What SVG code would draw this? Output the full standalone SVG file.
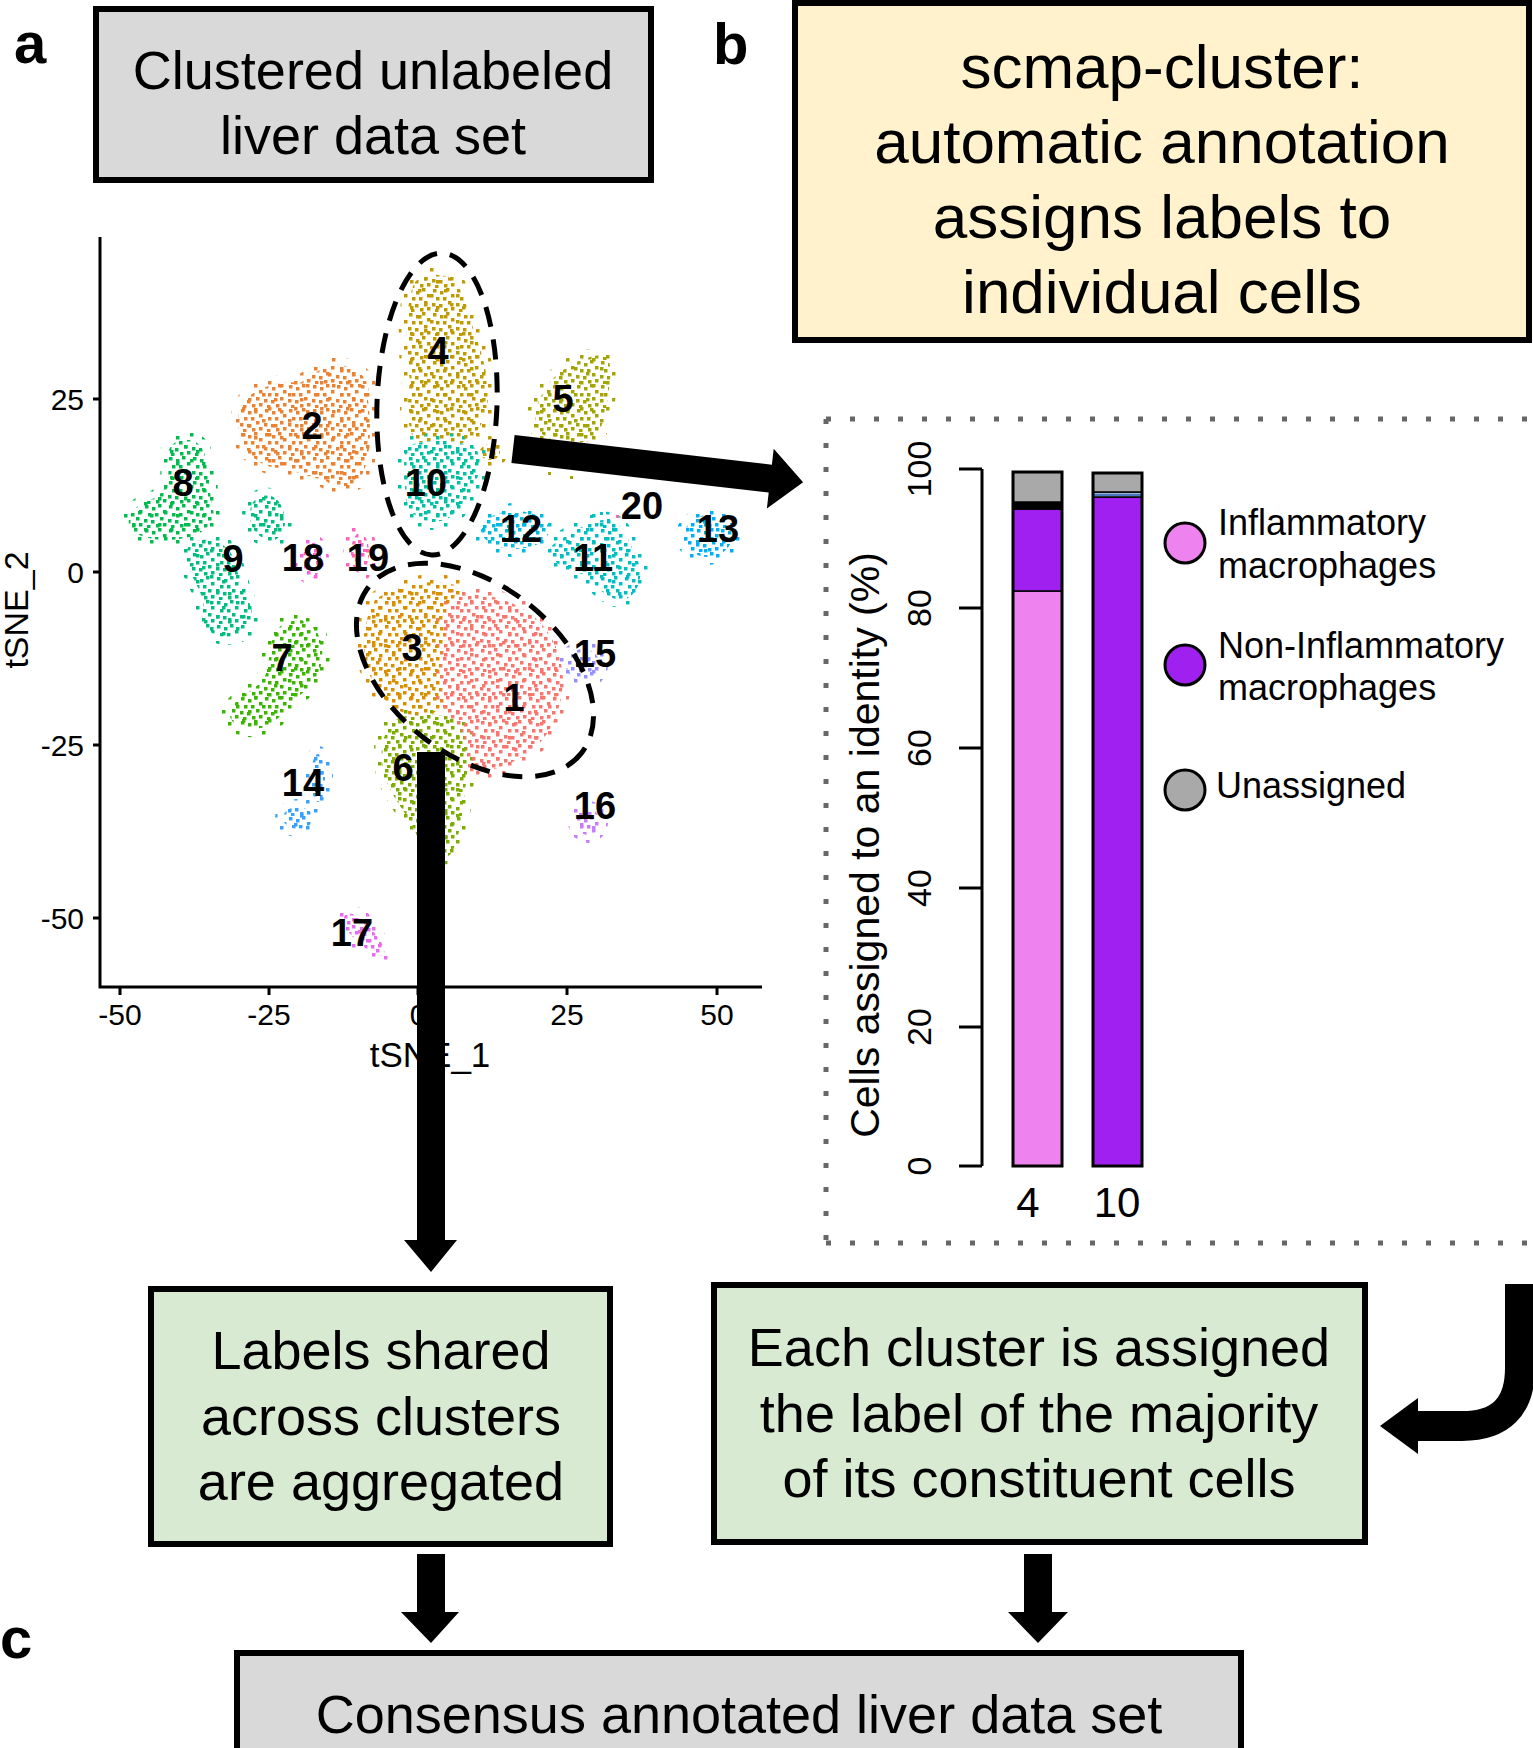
<svg xmlns="http://www.w3.org/2000/svg" xmlns:xlink="http://www.w3.org/1999/xlink" width="1533" height="1748" viewBox="0 0 1533 1748">
<style>
text{font-family:"Liberation Sans",Arial,sans-serif;fill:#000}
.box{stroke:#000;stroke-width:6}
.big{font-size:54px;text-anchor:middle}
.panel{font-size:58px;font-weight:bold}
.cl{font-size:38px;font-weight:bold;text-anchor:middle}
.tk{font-size:30px}
.ax{stroke:#000;stroke-width:3;fill:none}
.dash{fill:none;stroke:#000;stroke-width:5;stroke-dasharray:20 13}
.arrow{fill:#000}
.bar{stroke:#000;stroke-width:1.5}
.leg{font-size:36px}
</style>
<defs>
<pattern id="dp" width="24" height="24" patternUnits="userSpaceOnUse">
<g fill="#fff">
<rect x="1" y="1" width="3.5" height="3.5"/><rect x="8" y="3" width="3.5" height="3.5"/><rect x="14" y="0" width="3.5" height="3.5"/><rect x="19" y="6" width="3.5" height="3.5"/><rect x="4" y="9" width="3.5" height="3.5"/><rect x="11" y="9" width="3.5" height="3.5"/><rect x="16" y="13" width="3.5" height="3.5"/><rect x="0" y="15" width="3.5" height="3.5"/><rect x="7" y="16" width="3.5" height="3.5"/><rect x="12" y="20" width="3.5" height="3.5"/><rect x="19" y="19" width="3.5" height="3.5"/><rect x="3" y="21" width="3.5" height="3.5"/>
</g>
</pattern>
<pattern id="sp" width="26" height="26" patternUnits="userSpaceOnUse">
<g fill="#fff"><rect x="2" y="3" width="3.5" height="3.5"/><rect x="14" y="8" width="3.5" height="3.5"/><rect x="8" y="17" width="3.5" height="3.5"/><rect x="20" y="20" width="3.5" height="3.5"/></g>
</pattern>
<mask id="dm" maskUnits="userSpaceOnUse" x="0" y="0" width="1533" height="1748"><rect width="1533" height="1748" fill="url(#dp)"/></mask>
<mask id="sm" maskUnits="userSpaceOnUse" x="0" y="0" width="1533" height="1748"><rect width="1533" height="1748" fill="url(#sp)"/></mask>
<g id="clusters" fill="currentColor" stroke="currentColor" stroke-linejoin="round">
<path color="#C09B00" d="M415 282 C425 272 450 272 458 285 C466 300 468 312 472 325 C480 345 490 380 488 398 C487 415 480 430 470 440 C455 448 430 446 415 440 C405 425 408 400 410 380 C405 350 405 300 415 282 Z"/>
<ellipse color="#C09B00" cx="490" cy="452" rx="10" ry="8"/>
<path color="#00C1A3" d="M410 445 C430 438 460 440 475 448 C485 460 478 480 470 495 C462 510 450 522 432 522 C415 520 404 508 405 490 C406 475 400 455 410 445 Z"/>
<path color="#EA8331" d="M245 400 C260 385 285 380 300 383 C315 375 325 362 340 365 C360 368 372 380 368 400 C372 430 370 460 362 475 C355 488 335 490 325 480 C310 478 295 470 280 468 C262 468 245 455 240 435 C236 420 238 410 245 400 Z"/>
<path color="#A3A500" d="M545 390 C555 370 585 355 603 355 C612 358 612 375 608 395 C605 420 600 440 585 442 C565 445 540 440 536 425 C533 410 538 400 545 390 Z"/>
<path color="#00BB4E" d="M172 445 C180 437 198 438 203 450 C210 465 208 485 212 505 C218 520 205 535 185 538 C165 542 140 540 130 528 C125 515 135 505 150 500 C165 495 170 480 168 465 C166 455 168 450 172 445 Z"/>
<path color="#00BF7D" d="M190 545 C200 535 225 540 232 555 C238 570 240 585 248 600 C256 615 252 632 235 636 C215 640 200 630 203 610 C205 595 195 585 190 570 C185 560 185 550 190 545 Z"/>
<path color="#00BF7D" d="M255 500 C265 492 278 495 282 508 C288 520 285 535 275 540 C262 542 250 530 250 518 C250 510 250 505 255 500 Z"/>
<ellipse color="#FA62DB" cx="312" cy="560" rx="9" ry="18"/>
<ellipse color="#FF62BC" cx="360" cy="553" rx="9" ry="20"/>
<ellipse color="#00BAE0" cx="515" cy="530" rx="34" ry="19"/>
<path color="#00BFC4" d="M560 540 C575 530 595 518 610 520 C625 525 630 545 638 560 C645 580 635 600 620 600 C605 598 595 585 585 575 C570 570 555 565 550 555 C548 548 552 545 560 540 Z"/>
<ellipse color="#00B0F6" cx="708" cy="536" rx="24" ry="21"/>
<path color="#D89000" d="M375 600 C395 585 430 578 455 585 C470 595 472 620 468 650 C462 680 450 705 430 715 C405 720 385 705 375 685 C362 665 358 630 375 600 Z"/>
<path color="#F8766D" d="M450 600 C470 590 500 595 525 610 C548 625 562 650 563 680 C562 710 550 740 525 755 C505 768 480 775 462 770 C445 760 440 740 445 720 C440 690 438 660 445 635 C443 620 445 608 450 600 Z"/>
<path color="#7CAE00" d="M395 720 C410 712 440 712 455 720 C468 735 470 760 465 790 C462 815 460 840 450 855 C435 862 420 850 415 830 C405 810 385 790 382 765 C380 745 385 728 395 720 Z"/>
<path color="#39B600" d="M290 622 C305 615 320 628 322 648 C324 668 315 685 300 695 C290 705 280 720 265 727 C245 733 228 725 230 712 C233 700 250 692 262 682 C270 672 268 648 275 632 C280 625 285 623 290 622 Z"/>
<ellipse color="#35A2FF" cx="318" cy="778" rx="7" ry="24"/>
<ellipse color="#35A2FF" cx="298" cy="818" rx="15" ry="11"/>
<ellipse color="#9590FF" cx="583" cy="665" rx="17" ry="16"/>
<ellipse color="#C77CFF" cx="588" cy="822" rx="12" ry="13"/>
<path color="#E76BF3" d="M345 915 C355 910 365 920 372 930 C380 940 388 950 383 955 C375 957 365 948 358 942 C350 935 340 922 345 915 Z"/>
</g>
</defs>
<rect width="1533" height="1748" fill="#fff"/>

<g id="panel-labels">
<text class="panel" x="14" y="63">a</text>
<text class="panel" x="713" y="64">b</text>
<text class="panel" x="0" y="1658">c</text>
</g>

<g id="node-unlabeled">
<rect class="box" x="96" y="9" width="555" height="171" fill="#d9d9d9"/>
<text class="big" x="373" y="89">Clustered unlabeled</text>
<text class="big" x="373" y="154">liver data set</text>
</g>

<g id="node-scmap">
<rect class="box" x="795" y="3" width="734" height="337" fill="#fff2cc"/>
<text class="big" style="font-size:62px" x="1162" y="88">scmap-cluster:</text>
<text class="big" style="font-size:62px" x="1162" y="163">automatic annotation</text>
<text class="big" style="font-size:62px" x="1162" y="238">assigns labels to</text>
<text class="big" style="font-size:62px" x="1162" y="313">individual cells</text>
</g>

<g id="tsne-plot">
<g mask="url(#sm)"><use xlink:href="#clusters" href="#clusters" style="stroke-width:16"/></g>
<g mask="url(#dm)"><use xlink:href="#clusters" href="#clusters" style="stroke-width:0"/></g>
<g fill="#00BFC4"><rect x="590" y="515" width="3" height="3"/><rect x="600" y="512" width="3" height="3"/><rect x="607" y="519" width="3" height="3"/></g>
<g fill="#A3A500"><rect x="548" y="472" width="3" height="3"/><rect x="570" y="476" width="3" height="3"/></g>
<rect x="616" y="515" width="3" height="3" fill="#FF6C91"/>
<path class="ax" d="M100 237 V987 H762"/>
<path class="ax" d="M93 399 H100 M93 572 H100 M93 745 H100 M93 918 H100 M120 987 V995 M269 987 V995 M418 987 V995 M567 987 V995 M717 987 V995"/>
<g class="tk" text-anchor="end">
<text x="84" y="410">25</text><text x="84" y="583">0</text><text x="84" y="756">-25</text><text x="84" y="929">-50</text>
</g>
<g class="tk" text-anchor="middle">
<text x="120" y="1025">-50</text><text x="269" y="1025">-25</text><text x="418" y="1025">0</text><text x="567" y="1025">25</text><text x="717" y="1025">50</text>
</g>
<text x="430" y="1067" style="font-size:35px;text-anchor:middle">tSNE_1</text>
<text transform="translate(28 610) rotate(-90)" style="font-size:34px;text-anchor:middle">tSNE_2</text>
<ellipse class="dash" cx="437" cy="404" rx="60" ry="151" transform="rotate(2 437 404)"/>
<ellipse class="dash" cx="475" cy="670" rx="135" ry="85" transform="rotate(38 475 670)"/>
<g class="cl">
<text x="514" y="711">1</text><text x="312" y="439">2</text><text x="412" y="661">3</text><text x="438" y="364">4</text><text x="563" y="412">5</text>
<text x="403" y="781">6</text><text x="282" y="671">7</text><text x="183" y="496">8</text><text x="233" y="572">9</text><text x="426" y="496">10</text>
<text x="593" y="571">11</text><text x="521" y="542">12</text><text x="718" y="542">13</text><text x="303" y="796">14</text><text x="595" y="667">15</text>
<text x="595" y="819">16</text><text x="352" y="946">17</text><text x="303" y="571">18</text><text x="368" y="571">19</text><text x="642" y="519">20</text>
</g>
</g>

<g id="barplot">
<path d="M826 419 V1243 M826 419 H1533 M826 1243 H1533" fill="none" stroke="#666" stroke-width="5" stroke-dasharray="5 19"/>
<path class="ax" d="M982 469 V1166 M959 469 H982 M959 608 H982 M959 748 H982 M959 888 H982 M959 1027 H982 M959 1166 H982" stroke-width="2.5"/>
<g style="font-size:34px;text-anchor:middle">
<text transform="translate(931 469) rotate(-90)">100</text>
<text transform="translate(931 608) rotate(-90)">80</text>
<text transform="translate(931 748) rotate(-90)">60</text>
<text transform="translate(931 888) rotate(-90)">40</text>
<text transform="translate(931 1027) rotate(-90)">20</text>
<text transform="translate(931 1166) rotate(-90)">0</text>
</g>
<text transform="translate(879 845) rotate(-90)" style="font-size:41px;text-anchor:middle">Cells assigned to an identity (%)</text>
<g id="bar-4">
<rect class="bar" x="1013" y="591" width="49" height="575" fill="#EE82EE"/>
<rect class="bar" x="1013" y="509" width="49" height="82" fill="#A020F0"/>
<rect class="bar" x="1013" y="502" width="49" height="7" fill="#000"/>
<rect class="bar" x="1013" y="472" width="49" height="30" fill="#A9A9A9"/>
<rect x="1013" y="472" width="49" height="694" fill="none" stroke="#000" stroke-width="3"/>
</g>
<g id="bar-10">
<rect class="bar" x="1093" y="497" width="49" height="669" fill="#A020F0"/>
<rect class="bar" x="1093" y="492" width="49" height="5" fill="#9fb6d6"/>
<rect x="1093" y="494" width="49" height="2" fill="#4a78c0"/>
<rect class="bar" x="1093" y="473" width="49" height="19" fill="#A9A9A9"/>
<rect x="1093" y="473" width="49" height="693" fill="none" stroke="#000" stroke-width="3"/>
</g>
<text x="1028" y="1217" style="font-size:42px;text-anchor:middle">4</text>
<text x="1117" y="1217" style="font-size:42px;text-anchor:middle">10</text>
<g id="legend">
<circle cx="1185" cy="543" r="20" fill="#EE82EE" stroke="#000" stroke-width="3"/>
<circle cx="1185" cy="665" r="20" fill="#A020F0" stroke="#000" stroke-width="3"/>
<circle cx="1185" cy="790" r="20" fill="#A9A9A9" stroke="#000" stroke-width="3"/>
<text class="leg" x="1218" y="535">Inflammatory</text>
<text class="leg" x="1218" y="578">macrophages</text>
<text class="leg" x="1218" y="658">Non-Inflammatory</text>
<text class="leg" x="1218" y="700">macrophages</text>
<text class="leg" x="1216" y="798">Unassigned</text>
</g>
</g>

<g id="node-aggregated">
<rect class="box" x="151" y="1289" width="459" height="255" fill="#d9ead3"/>
<text class="big" x="381" y="1369">Labels shared</text>
<text class="big" x="381" y="1435">across clusters</text>
<text class="big" x="381" y="1500">are aggregated</text>
</g>

<g id="node-majority">
<rect class="box" x="714" y="1285" width="651" height="257" fill="#d9ead3"/>
<text class="big" x="1039" y="1366">Each cluster is assigned</text>
<text class="big" x="1039" y="1432">the label of the majority</text>
<text class="big" x="1039" y="1497">of its constituent cells</text>
</g>

<g id="node-consensus">
<rect class="box" x="237" y="1653" width="1004" height="110" fill="#d9d9d9"/>
<text class="big" x="739" y="1733">Consensus annotated liver data set</text>
</g>

<g id="connectors">
<polygon class="arrow" points="514.6,435.1 771.9,464.7 773.7,448.8 803.1,482.3 766.9,508.4 768.7,492.5 511.4,462.9"/>
<polygon class="arrow" points="417,752 445,752 445,1240 457,1240 431,1272 404,1240 417,1240"/>
<polygon class="arrow" points="417,1554 445,1554 445,1612 459,1612 431,1643 401,1612 417,1612"/>
<polygon class="arrow" points="1024,1554 1052,1554 1052,1612 1068,1612 1038,1643 1008,1612 1024,1612"/>
<path d="M1520 1284 V1368 Q1520 1426 1462 1426 H1412" fill="none" stroke="#000" stroke-width="30"/>
<polygon class="arrow" points="1418,1398 1380,1426 1418,1454"/>
</g>
</svg>
